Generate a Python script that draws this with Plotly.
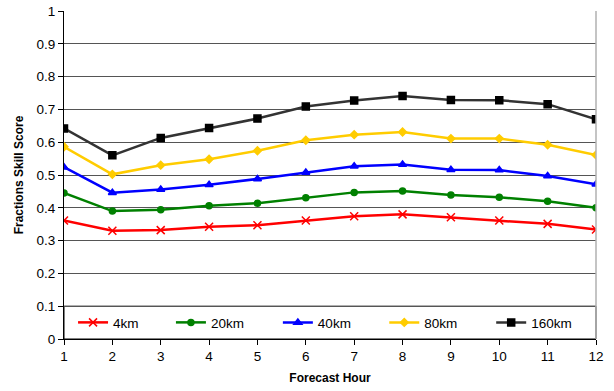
import plotly.graph_objects as go

hours = list(range(1, 13))
s4 = [0.361, 0.330, 0.332, 0.342, 0.347, 0.361, 0.374, 0.380, 0.371, 0.361, 0.351, 0.334]
s20 = [0.445, 0.390, 0.394, 0.406, 0.414, 0.431, 0.447, 0.451, 0.439, 0.432, 0.420, 0.400]
s40 = [0.524, 0.446, 0.456, 0.470, 0.488, 0.508, 0.527, 0.532, 0.516, 0.515, 0.497, 0.472]
s80 = [0.586, 0.502, 0.530, 0.548, 0.574, 0.606, 0.623, 0.631, 0.611, 0.611, 0.592, 0.561]
s160 = [0.642, 0.560, 0.613, 0.643, 0.672, 0.709, 0.727, 0.741, 0.729, 0.728, 0.716, 0.670]
names = ["4km", "20km", "40km", "80km", "160km"]
y_ticks = [0, 0.1, 0.2, 0.3, 0.4, 0.5, 0.6, 0.7, 0.8, 0.9, 1]

series = [s4, s20, s40, s80, s160]
line_colors = ["#FF0000", "#008000", "#0000FF", "#FFCC00", "#333333"]
marker_colors = ["#FF0000", "#008000", "#0000FF", "#FFCC00", "#000000"]
symbols = ["x-thin-open", "circle", "triangle-up", "diamond", "square"]
sizes = [8, 6, 7, 6, 7]
legend_ids = ["legend", "legend2", "legend3", "legend4", "legend5"]
legend_x = [0.017, 0.201, 0.402, 0.602, 0.803]

fig = go.Figure()
for nm, ys, lc, mc, sym, sz, lid in zip(names, series, line_colors, marker_colors, symbols, sizes, legend_ids):
    fig.add_trace(go.Scatter(
        x=hours, y=ys, name=nm, mode="lines+markers", legend=lid,
        line=dict(color=lc, width=2.5),
        marker=dict(symbol=sym, size=sz, color=mc, line=dict(color=mc, width=1.5)),
    ))

fig.add_shape(type="rect", xref="paper", yref="y", x0=0, x1=1, y0=0, y1=0.1,
              line=dict(color="black", width=1), fillcolor="white", layer="below")
fig.add_shape(type="line", xref="paper", yref="paper", x0=1, x1=1, y0=0, y1=1,
              line=dict(color="#B0B0B0", width=1.5))

font = "Liberation Sans, Arial, sans-serif"
legend_style = dict(orientation="h", y=0.05, xanchor="left", yanchor="middle",
                    bgcolor="rgba(0,0,0,0)", font=dict(size=13.5), itemwidth=30)
layout_legends = {lid: dict(x=lx, **legend_style) for lid, lx in zip(legend_ids, legend_x)}

fig.update_layout(
    width=614, height=391,
    margin=dict(l=64, r=18, t=11, b=52),
    paper_bgcolor="white", plot_bgcolor="white",
    font=dict(family=font, size=13.5, color="black"),
    showlegend=True,
    xaxis=dict(range=[1, 12], tickvals=hours, showgrid=False, zeroline=False,
               showline=True, linecolor="black", linewidth=1, automargin=False,
               ticks="outside", ticklen=5, tickcolor="black",
               title=dict(text="<b>Forecast Hour</b>", font=dict(size=12), standoff=10)),
    yaxis=dict(range=[0, 1], tickvals=y_ticks, ticktext=[f"{v:g}" for v in y_ticks],
               showgrid=True, gridcolor="#555555", gridwidth=1, zeroline=False,
               showline=True, linecolor="black", linewidth=1, automargin=False,
               ticks="outside", ticklen=5, tickcolor="black",
               title=dict(text="<b>Fractions Skill Score</b>", font=dict(size=12), standoff=10)),
    **layout_legends,
)
fig.write_html("out.html")
